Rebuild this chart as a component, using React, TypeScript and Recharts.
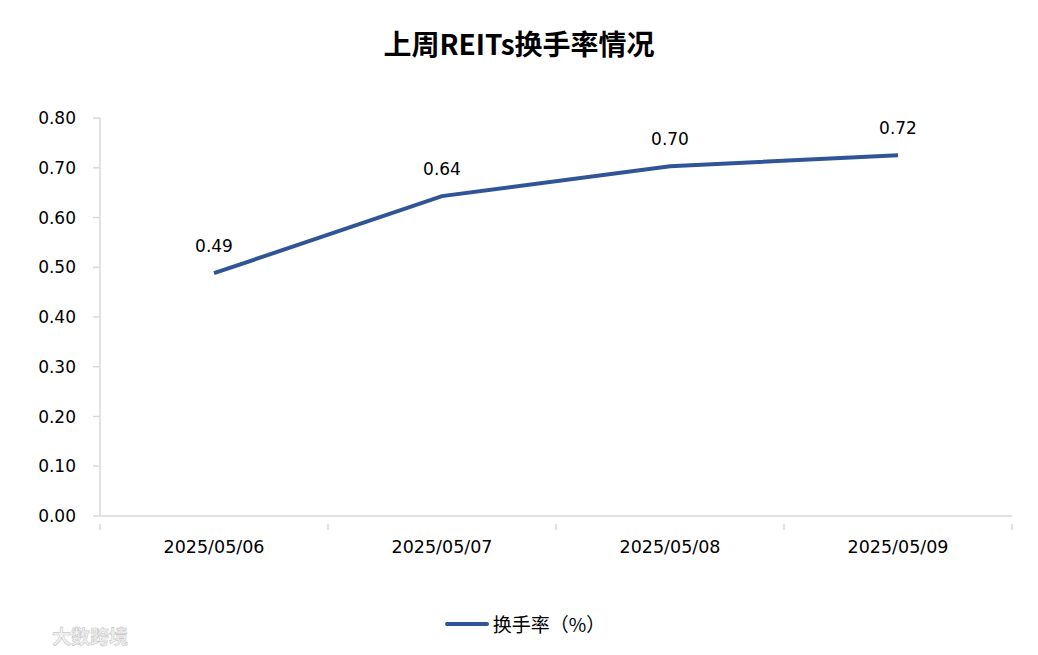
import { LabelList, Line, LineChart, XAxis, YAxis } from "recharts";

const dates = ["2025/05/06", "2025/05/07", "2025/05/08", "2025/05/09"];
const turnover = [0.488, 0.643, 0.703, 0.725];
const turnoverLabels = ["0.49", "0.64", "0.70", "0.72"];
const yTicks = [0, 0.1, 0.2, 0.3, 0.4, 0.5, 0.6, 0.7, 0.8];

const seriesName = "换手率（%）";
const lineColor = "#2F5597";
const axisColor = "#d9d9d9";
const font = "'Noto Sans CJK SC', 'Noto Sans', sans-serif";
const numFont = "'DejaVu Sans', 'Noto Sans CJK SC', sans-serif";

const W = 1038;
const H = 655;
const plotLeft = 100;
const plotRight = 1012;
const band = (plotRight - plotLeft) / dates.length;

const data = dates.map((d, i) => ({ date: d, value: turnover[i], label: turnoverLabels[i] }));

function DateTick(props: any) {
  const { x, y, payload, index } = props;
  const last = index === dates.length - 1;
  return (
    <g>
      <line x1={x - band / 2} x2={x - band / 2} y1={y} y2={y + 6} stroke={axisColor} strokeWidth={1.5} />
      {last && <line x1={x + band / 2} x2={x + band / 2} y1={y} y2={y + 6} stroke={axisColor} strokeWidth={1.5} />}
      <text x={x} y={y + 29} textAnchor="middle" fontSize={17.5} fill="#000" fontFamily={numFont}>
        {payload.value}
      </text>
    </g>
  );
}

export default function App() {
  return (
    <div style={{ position: "absolute", left: 0, top: 0, width: W, height: H, background: "#fff", fontFamily: font }}>
      <div style={{ position: "absolute", left: 0, width: W, top: 23, textAlign: "center", fontSize: 28, fontWeight: 700, color: "#000" }}>
        上周REITs换手率情况
      </div>
      <LineChart width={W} height={H} data={data} margin={{ top: 118, right: W - plotRight, left: 40, bottom: 109 }}>
        <XAxis
          dataKey="date"
          stroke={axisColor}
          strokeWidth={1.5}
          tickLine={false}
          tick={<DateTick />}
          interval={0}
          height={30}
          padding={{ left: band / 2, right: band / 2 }}
        />
        <YAxis
          domain={[0, 0.8]}
          ticks={yTicks}
          width={60}
          stroke={axisColor}
          strokeWidth={1.5}
          tickSize={7}
          tickMargin={17}
          tickFormatter={(v: number) => v.toFixed(2)}
          tick={{ fill: "#000", fontSize: 17, fontFamily: numFont }}
        />
        <Line
          type="linear"
          dataKey="value"
          stroke={lineColor}
          strokeWidth={4}
          dot={false}
          isAnimationActive={false}
        >
          <LabelList dataKey="label" position="top" offset={21} fill="#000" fontSize={17} fontFamily={numFont} />
        </Line>
      </LineChart>
      <div style={{ position: "absolute", top: 610, left: 6, width: W, display: "flex", justifyContent: "center", alignItems: "center", fontSize: 19, color: "#000" }}>
        <svg width={44} height={8} style={{ marginRight: 4 }}>
          <line x1={2} x2={42} y1={4} y2={4} stroke={lineColor} strokeWidth={4} strokeLinecap="round" />
        </svg>
        <span>{seriesName}</span>
      </div>
      <div style={{ position: "absolute", left: 52, top: 622, fontSize: 19, fontWeight: 700, color: "#f2f2f2", WebkitTextStroke: "0.6px #c8c8c8" }}>
        大数跨境
      </div>
    </div>
  );
}
